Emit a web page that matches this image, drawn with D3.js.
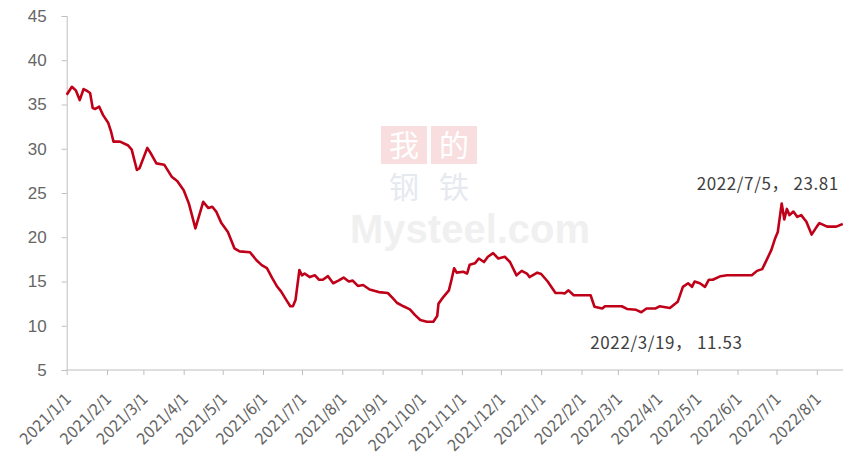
<!DOCTYPE html>
<html><head><meta charset="utf-8">
<script src="https://cdn.jsdelivr.net/npm/d3@7"></script>
<style>
html,body{margin:0;padding:0;background:#fff;}
svg{display:block;}
</style></head>
<body>
<svg id="chart" width="843" height="464"></svg>
<script>
// ---- data ----
const dates = ["2021-01-01","2021-01-05","2021-01-08","2021-01-11","2021-01-14","2021-01-17","2021-01-19","2021-01-21","2021-01-23","2021-01-26","2021-01-29","2021-02-02","2021-02-04","2021-02-06","2021-02-11","2021-02-17","2021-02-20","2021-02-24","2021-02-26","2021-03-04","2021-03-07","2021-03-11","2021-03-17","2021-03-23","2021-03-27","2021-04-01","2021-04-05","2021-04-10","2021-04-16","2021-04-20","2021-04-23","2021-04-26","2021-04-30","2021-05-05","2021-05-10","2021-05-14","2021-05-22","2021-05-27","2021-05-31","2021-06-04","2021-06-08","2021-06-12","2021-06-15","2021-06-19","2021-06-22","2021-06-24","2021-06-26","2021-06-29","2021-07-01","2021-07-03","2021-07-07","2021-07-11","2021-07-14","2021-07-17","2021-07-21","2021-07-25","2021-07-29","2021-08-02","2021-08-06","2021-08-09","2021-08-13","2021-08-17","2021-08-22","2021-08-29","2021-09-05","2021-09-09","2021-09-12","2021-09-17","2021-09-22","2021-09-26","2021-09-30","2021-10-05","2021-10-10","2021-10-13","2021-10-14","2021-10-18","2021-10-22","2021-10-24","2021-10-26","2021-10-28","2021-11-02","2021-11-05","2021-11-07","2021-11-11","2021-11-14","2021-11-18","2021-11-21","2021-11-25","2021-11-29","2021-12-04","2021-12-08","2021-12-13","2021-12-17","2021-12-21","2021-12-23","2021-12-29","2022-01-01","2022-01-06","2022-01-12","2022-01-17","2022-01-19","2022-01-22","2022-01-26","2022-02-08","2022-02-11","2022-02-17","2022-02-19","2022-03-04","2022-03-08","2022-03-15","2022-03-19","2022-03-23","2022-03-30","2022-04-02","2022-04-10","2022-04-16","2022-04-20","2022-04-24","2022-04-27","2022-04-29","2022-05-03","2022-05-07","2022-05-10","2022-05-13","2022-05-19","2022-05-24","2022-06-12","2022-06-16","2022-06-20","2022-06-23","2022-06-27","2022-06-30","2022-07-02","2022-07-05","2022-07-07","2022-07-09","2022-07-11","2022-07-14","2022-07-17","2022-07-20","2022-07-24","2022-07-28","2022-08-01","2022-08-03","2022-08-09","2022-08-16","2022-08-21"];
const values = [36.1,37.0,36.6,35.5,36.75,36.5,36.3,34.6,34.5,34.75,33.8,32.9,32.0,30.8,30.8,30.4,29.9,27.6,27.8,30.1,29.4,28.35,28.2,26.8,26.35,25.3,23.8,21.0,24.0,23.3,23.45,22.9,21.6,20.6,18.75,18.4,18.3,17.4,16.85,16.5,15.4,14.4,13.85,12.9,12.2,12.2,12.9,16.3,15.7,15.9,15.5,15.7,15.2,15.2,15.6,14.8,15.1,15.45,15.0,15.1,14.5,14.6,14.1,13.8,13.7,13.1,12.6,12.2,11.85,11.2,10.65,10.45,10.45,11.1,12.5,13.3,14.0,15.2,16.5,16.0,16.1,15.9,16.9,17.05,17.6,17.2,17.8,18.2,17.6,17.8,17.2,15.7,16.2,15.9,15.5,16.0,15.85,15.0,13.7,13.7,13.65,14.0,13.45,13.45,12.15,11.95,12.2,12.2,11.9,11.8,11.53,11.95,11.95,12.2,12.0,12.7,14.4,14.8,14.4,15.0,14.8,14.4,15.2,15.2,15.6,15.7,15.7,16.2,16.4,17.3,18.55,19.9,20.6,23.81,22.0,23.2,22.5,22.9,22.3,22.5,21.75,20.3,21.2,21.6,21.2,21.2,21.5];
const yTicks = [5,10,15,20,25,30,35,40,45];
const xTickDates = ["2021-01-01","2021-02-01","2021-03-01","2021-04-01","2021-05-01","2021-06-01","2021-07-01","2021-08-01","2021-09-01","2021-10-01","2021-11-01","2021-12-01","2022-01-01","2022-02-01","2022-03-01","2022-04-01","2022-05-01","2022-06-01","2022-07-01","2022-08-01"];
const annotations = [
  {date:"2022-07-05", text:"2022/7/5， 23.81"},
  {date:"2022-03-19", text:"2022/3/19， 11.53"}
];

// ---- chart ----
const parse = d3.utcParse("%Y-%m-%d");
const fmt = d3.utcFormat("%Y/%-m/%-d");
const data = dates.map((d,i)=>({date:parse(d), value:values[i]}));
const svg = d3.select("#chart");

const x = d3.scaleUtc().domain([parse("2021-01-01"), parse("2022-08-23")]).range([66.7, 845.4]);
const y = d3.scaleLinear().domain([5,45]).range([370,16]);

// watermark (faint)
const wm = svg.append("g");
wm.append("rect").attr("x",381).attr("y",126).attr("width",46).attr("height",38).attr("fill","#f8dede");
wm.append("rect").attr("x",431).attr("y",126).attr("width",46).attr("height",38).attr("fill","#f8dede");
const cjk = "'Noto Sans CJK SC',sans-serif";
wm.append("text").attr("x",404).attr("y",156).attr("text-anchor","middle").attr("font-family",cjk).attr("font-size",30).attr("fill","#ffffff").text("我");
wm.append("text").attr("x",454).attr("y",156).attr("text-anchor","middle").attr("font-family",cjk).attr("font-size",30).attr("fill","#ffffff").text("的");
wm.append("text").attr("x",404).attr("y",198).attr("text-anchor","middle").attr("font-family",cjk).attr("font-size",30).attr("fill","#e6e9ef").text("钢");
wm.append("text").attr("x",454).attr("y",198).attr("text-anchor","middle").attr("font-family",cjk).attr("font-size",30).attr("fill","#e6e9ef").text("铁");
wm.append("text").attr("x",350).attr("y",243).attr("font-family","Liberation Sans").attr("font-weight","bold").attr("font-size",40).attr("fill","#f0f0f0").text("Mysteel.com");

// y axis
const yAxis = svg.append("g").attr("transform","translate(66.7,0)")
  .call(d3.axisLeft(y).tickValues(yTicks).tickSize(5).tickPadding(15).tickFormat(d3.format("d")));
yAxis.select(".domain").attr("stroke","#bfbfbf");
yAxis.selectAll(".tick line").attr("stroke","#bfbfbf");
yAxis.selectAll(".tick text").attr("fill","#666666").attr("font-family","'Liberation Sans Narrow','Arial Narrow','Liberation Sans',sans-serif").attr("font-size",17);

// x axis
const xAxis = svg.append("g").attr("transform","translate(0,370)")
  .call(d3.axisBottom(x).tickValues(xTickDates.map(parse)).tickSize(5).tickFormat(fmt));
xAxis.select(".domain").attr("stroke","#bfbfbf").attr("d","M66.7,0H845");
xAxis.selectAll(".tick line").attr("stroke","#bfbfbf");
xAxis.selectAll(".tick text")
  .attr("fill","#666666").attr("font-family","'DejaVu Sans Condensed','DejaVu Sans',sans-serif").attr("font-size",16)
  .attr("text-anchor","end").attr("dy",null).attr("y",null)
  .attr("transform","translate(5,30) rotate(-45)");

// line
svg.append("path").datum(data)
  .attr("fill","none").attr("stroke","#c00018").attr("stroke-width",2.6).attr("stroke-linejoin","round")
  .attr("d", d3.line().x(d=>x(d.date)).y(d=>y(d.value)));

// annotations
const annStyle = sel => sel.attr("font-family",cjk).attr("font-size",17).attr("letter-spacing",0.6).attr("fill","#404040");
svg.append("text").attr("x",x(parse(annotations[0].date))-85).attr("y",190).call(annStyle).text(annotations[0].text);
svg.append("text").attr("x",x(parse(annotations[1].date))-51).attr("y",349).call(annStyle).text(annotations[1].text);
</script>
</body></html>
